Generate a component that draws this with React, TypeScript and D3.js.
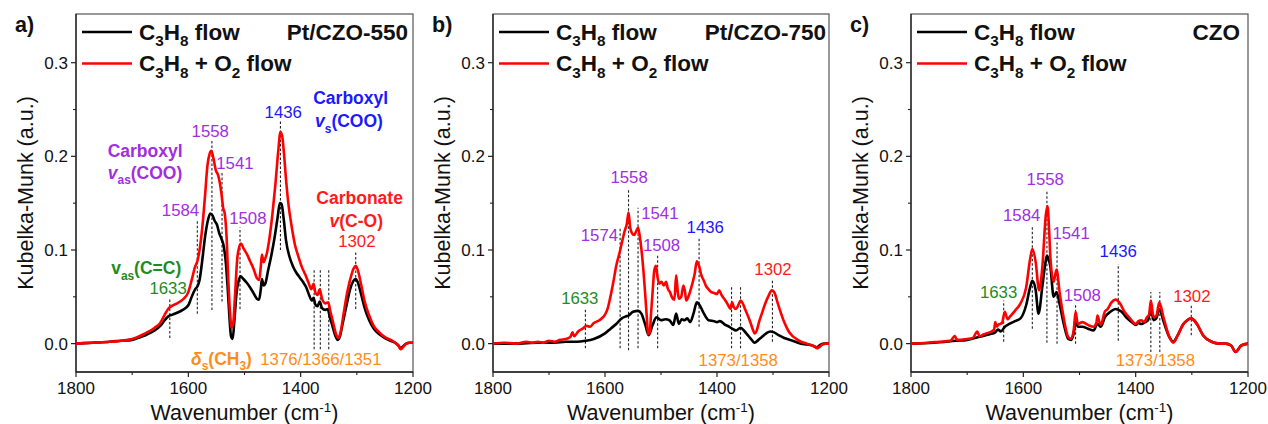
import React from "react";
import * as d3 from "d3";

const W = 1268;
const H = 424;
const FONT = "'Liberation Sans', Arial, Helvetica, sans-serif";

// ---------------- data (wavenumber cm-1, Kubelka-Munk) ----------------
// Panel a: Pt/CZO-550
const aBlackWn = [1800,1770,1740,1720,1700,1690,1680,1670,1660,1650,1642,1636,1628,1620,1610,1600,1594,1588,1584,1580,1575,1570,1565,1561,1557,1553,1549,1545,1541,1537,1533,1530,1527,1524,1521,1518,1514,1510,1507,1502,1496,1490,1484,1478,1474,1471,1469,1466,1463,1458,1452,1446,1441,1437,1434,1430,1426,1420,1414,1408,1402,1396,1390,1385,1380,1377,1374,1370,1366,1362,1356,1352,1348,1343,1338,1334,1330,1325,1318,1312,1306,1302,1298,1292,1286,1278,1270,1260,1250,1240,1232,1226,1222,1218,1212,1206,1200];
const aBlackKM = [0.000,0.001,0.002,0.003,0.004,0.006,0.008,0.011,0.014,0.019,0.025,0.029,0.031,0.033,0.036,0.041,0.050,0.058,0.061,0.068,0.090,0.115,0.132,0.139,0.137,0.131,0.127,0.118,0.112,0.104,0.085,0.060,0.030,0.008,0.005,0.025,0.055,0.068,0.072,0.069,0.065,0.060,0.054,0.048,0.047,0.058,0.069,0.062,0.064,0.078,0.095,0.115,0.135,0.150,0.149,0.132,0.110,0.093,0.083,0.076,0.071,0.066,0.060,0.052,0.046,0.049,0.042,0.040,0.045,0.038,0.036,0.037,0.028,0.018,0.008,0.004,0.008,0.022,0.042,0.058,0.067,0.069,0.065,0.052,0.038,0.025,0.016,0.010,0.006,0.003,0.001,-0.002,-0.005,-0.003,0.000,0.001,0.001];
const aRedWn = [1800,1770,1740,1720,1700,1690,1680,1670,1660,1650,1642,1636,1630,1620,1610,1600,1594,1588,1584,1580,1575,1570,1566,1562,1559,1555,1551,1547,1544,1541,1538,1535,1532,1529,1526,1523,1520,1517,1513,1509,1506,1502,1496,1490,1484,1478,1474,1471,1469,1466,1463,1460,1455,1450,1445,1440,1436,1433,1430,1426,1422,1416,1410,1404,1398,1392,1386,1381,1377,1374,1370,1366,1362,1356,1351,1347,1342,1337,1333,1329,1324,1318,1312,1306,1302,1298,1292,1286,1278,1270,1260,1250,1240,1232,1226,1222,1218,1212,1206,1200];
const aRedKM = [0.000,0.001,0.002,0.003,0.005,0.007,0.010,0.013,0.017,0.022,0.031,0.037,0.040,0.043,0.047,0.055,0.068,0.082,0.088,0.100,0.125,0.160,0.190,0.203,0.206,0.197,0.185,0.180,0.172,0.160,0.145,0.138,0.115,0.070,0.035,0.017,0.022,0.050,0.090,0.104,0.107,0.102,0.096,0.088,0.080,0.070,0.068,0.082,0.095,0.087,0.091,0.097,0.115,0.140,0.170,0.205,0.226,0.222,0.205,0.175,0.150,0.125,0.105,0.093,0.082,0.074,0.065,0.058,0.064,0.055,0.052,0.058,0.048,0.043,0.044,0.034,0.022,0.010,0.006,0.012,0.030,0.052,0.068,0.080,0.083,0.078,0.062,0.045,0.030,0.019,0.012,0.007,0.004,0.001,-0.002,-0.006,-0.004,0.000,0.001,0.001];

// Panel b: Pt/CZO-750
const bBlackWn = [1800,1760,1720,1690,1670,1650,1635,1620,1600,1590,1580,1570,1563,1558,1550,1541,1535,1528,1522,1515,1508,1500,1492,1485,1478,1473,1468,1463,1458,1453,1448,1442,1436,1430,1425,1415,1405,1400,1395,1385,1378,1373,1366,1358,1352,1345,1338,1333,1326,1320,1312,1305,1298,1290,1280,1270,1260,1250,1240,1230,1222,1215,1208,1200];
const bBlackKM = [0.000,0.000,0.001,0.001,0.002,0.002,0.003,0.005,0.011,0.016,0.021,0.027,0.029,0.030,0.034,0.035,0.032,0.020,0.009,0.020,0.028,0.025,0.026,0.025,0.020,0.032,0.021,0.026,0.025,0.027,0.023,0.032,0.044,0.040,0.034,0.025,0.024,0.023,0.024,0.020,0.018,0.016,0.014,0.017,0.014,0.009,0.004,0.001,0.004,0.007,0.011,0.013,0.012,0.009,0.006,0.004,0.002,0.000,-0.001,-0.002,-0.004,-0.001,0.000,0.000];
const bRedWn = [1800,1780,1760,1740,1730,1720,1710,1700,1690,1680,1670,1662,1658,1655,1648,1640,1633,1627,1620,1610,1600,1595,1590,1585,1580,1574,1569,1565,1561,1558,1555,1552,1548,1545,1541,1538,1535,1531,1528,1525,1523,1520,1518,1515,1512,1509,1506,1503,1499,1495,1491,1488,1484,1480,1476,1473,1470,1468,1464,1460,1457,1455,1450,1445,1440,1436,1432,1428,1424,1420,1415,1410,1405,1400,1396,1392,1385,1380,1376,1373,1370,1366,1362,1358,1354,1350,1345,1340,1336,1333,1329,1325,1320,1315,1308,1302,1297,1292,1286,1280,1273,1265,1258,1250,1240,1230,1225,1222,1218,1212,1205,1200];
const bRedKM = [0.000,0.001,0.000,0.002,0.001,0.002,0.001,0.003,0.002,0.004,0.005,0.007,0.012,0.008,0.013,0.016,0.019,0.018,0.022,0.025,0.031,0.038,0.051,0.066,0.083,0.097,0.110,0.120,0.128,0.140,0.124,0.118,0.116,0.119,0.124,0.115,0.101,0.075,0.051,0.025,0.010,0.012,0.030,0.055,0.078,0.083,0.070,0.064,0.066,0.062,0.066,0.059,0.055,0.049,0.047,0.073,0.055,0.048,0.050,0.062,0.055,0.046,0.052,0.062,0.074,0.088,0.083,0.073,0.068,0.062,0.058,0.055,0.054,0.053,0.057,0.052,0.046,0.041,0.037,0.044,0.039,0.037,0.041,0.046,0.043,0.037,0.030,0.022,0.015,0.011,0.014,0.023,0.032,0.041,0.051,0.057,0.054,0.044,0.033,0.023,0.014,0.008,0.005,0.002,0.000,-0.002,-0.003,-0.005,-0.004,-0.001,0.000,0.000];

// Panel c: CZO
const cBlackWn = [1800,1760,1720,1700,1680,1660,1650,1645,1640,1633,1625,1615,1605,1595,1588,1584,1578,1573,1566,1561,1558,1555,1552,1546,1541,1535,1528,1520,1515,1510,1507,1503,1495,1485,1475,1468,1462,1455,1445,1436,1425,1415,1405,1400,1395,1390,1383,1378,1373,1368,1363,1358,1350,1340,1333,1325,1315,1308,1302,1296,1290,1280,1265,1250,1240,1230,1222,1212,1200];
const cBlackKM = [0.000,0.001,0.003,0.004,0.007,0.010,0.012,0.015,0.013,0.018,0.021,0.024,0.027,0.041,0.060,0.067,0.057,0.032,0.062,0.085,0.094,0.090,0.083,0.050,0.055,0.041,0.021,0.005,0.004,0.012,0.023,0.018,0.018,0.016,0.014,0.021,0.018,0.028,0.034,0.037,0.034,0.027,0.022,0.020,0.022,0.021,0.023,0.025,0.037,0.025,0.027,0.037,0.023,0.007,0.002,0.009,0.021,0.025,0.027,0.025,0.020,0.009,0.002,0.000,0.000,-0.002,-0.009,-0.002,0.000];
const cRedWn = [1800,1770,1750,1730,1722,1718,1700,1690,1682,1678,1670,1660,1652,1650,1647,1645,1638,1633,1628,1625,1615,1605,1595,1588,1584,1578,1572,1566,1560,1557,1554,1552,1546,1541,1535,1528,1520,1515,1510,1507,1503,1495,1485,1475,1470,1468,1465,1462,1455,1450,1443,1436,1428,1420,1410,1400,1395,1390,1385,1380,1376,1373,1368,1363,1358,1350,1340,1333,1325,1315,1308,1302,1296,1290,1280,1265,1250,1240,1230,1222,1212,1200];
const cRedKM = [0.000,0.001,0.002,0.003,0.008,0.004,0.005,0.006,0.013,0.008,0.010,0.012,0.015,0.023,0.018,0.020,0.022,0.034,0.026,0.028,0.035,0.043,0.060,0.090,0.101,0.087,0.057,0.083,0.137,0.147,0.120,0.094,0.066,0.079,0.053,0.027,0.007,0.005,0.016,0.034,0.021,0.023,0.020,0.018,0.022,0.030,0.024,0.020,0.034,0.037,0.044,0.047,0.043,0.034,0.027,0.021,0.024,0.025,0.023,0.028,0.031,0.046,0.028,0.030,0.044,0.027,0.007,0.001,0.009,0.021,0.025,0.027,0.025,0.020,0.009,0.002,0.000,0.000,-0.002,-0.009,-0.002,0.000];

// ---------------- axis config ----------------
const xDomain = [1800, 1200];
const yDomain = [-0.0303, 0.352];
const xMajorTicks = [1800, 1600, 1400, 1200];
const xMinorTicks = [1700, 1500, 1300];
const yMajorTicks = [0.0, 0.1, 0.2, 0.3];
const yMinorTicks = [0.05, 0.15, 0.25];

const PURPLE = "#A12EE0";
const BLUE = "#1A1AFF";
const GREEN = "#1E8C1E";
const ORANGE = "#FF8C1A";
const RED = "#FF1A1A";
const LINE_RED = "#FF0000";

type Seg = { t: string; sub?: boolean; it?: boolean };
type Note = { segs: Seg[]; wn: number; y: number; color: string; bold?: boolean };
type Peak = [number, number, number];

const num = (t: string, wn: number, y: number, color: string): Note => ({ segs: [{ t }], wn, y, color });

const aPeaks: Peak[] = [
  [1633, 0.006, 0.049], [1584, 0.032, 0.131], [1558, 0.036, 0.217], [1540, 0.045, 0.183],
  [1508, 0.037, 0.124], [1436, 0.100, 0.239], [1376, -0.006, 0.080], [1365, -0.006, 0.080],
  [1350, -0.006, 0.080], [1302, 0.037, 0.099],
];
const aNotes: Note[] = [
  num("1633", 1636, 0.053, GREEN),
  { segs: [{ t: "v" }, { t: "as", sub: true }, { t: "(C=C)" }], wn: 1675, y: 0.074, color: GREEN, bold: true },
  num("1584", 1614, 0.136, PURPLE),
  { segs: [{ t: "Carboxyl" }], wn: 1677, y: 0.199, color: PURPLE, bold: true },
  { segs: [{ t: "v", it: true }, { t: "as", sub: true }, { t: "(COO)" }], wn: 1677, y: 0.176, color: PURPLE, bold: true },
  num("1558", 1561, 0.221, PURPLE),
  num("1541", 1517, 0.187, PURPLE),
  num("1508", 1494, 0.128, PURPLE),
  num("1436", 1431, 0.241, BLUE),
  { segs: [{ t: "Carboxyl" }], wn: 1311, y: 0.256, color: BLUE, bold: true },
  { segs: [{ t: "v", it: true }, { t: "s", sub: true }, { t: "(COO)" }], wn: 1314, y: 0.231, color: BLUE, bold: true },
  { segs: [{ t: "Carbonate" }], wn: 1295, y: 0.149, color: RED, bold: true },
  { segs: [{ t: "v", it: true }, { t: "(C-O)" }], wn: 1301, y: 0.125, color: RED, bold: true },
  num("1302", 1300, 0.103, RED),
  { segs: [{ t: "δ", it: true }, { t: "s", sub: true }, { t: "(CH" }, { t: "3", sub: true }, { t: ")" }], wn: 1541, y: -0.023, color: ORANGE, bold: true },
  num("1376/1366/1351", 1364, -0.023, ORANGE),
];

const bPeaks: Peak[] = [
  [1635, -0.005, 0.037], [1573, -0.005, 0.124], [1558, -0.007, 0.166], [1541, -0.005, 0.145],
  [1506, -0.005, 0.094], [1432, 0.018, 0.112], [1374, -0.005, 0.062], [1358, -0.005, 0.062],
  [1301, 0.002, 0.069],
];
const bNotes: Note[] = [
  num("1633", 1645, 0.042, GREEN),
  num("1574", 1610, 0.110, PURPLE),
  num("1558", 1557, 0.171, PURPLE),
  num("1541", 1502, 0.133, PURPLE),
  num("1508", 1499, 0.099, PURPLE),
  num("1436", 1421, 0.118, BLUE),
  num("1373/1358", 1362, -0.0235, ORANGE),
  num("1302", 1300, 0.073, RED),
];

const cPeaks: Peak[] = [
  [1635, 0.002, 0.046], [1584, 0.016, 0.126], [1558, 0.001, 0.164], [1540, 0.0, 0.108],
  [1507, 0.0, 0.041], [1431, 0.003, 0.085], [1373, -0.009, 0.055], [1357, -0.009, 0.055],
  [1301, 0.009, 0.041],
];
const cNotes: Note[] = [
  num("1633", 1644, 0.049, GREEN),
  num("1584", 1603, 0.131, PURPLE),
  num("1558", 1561, 0.169, PURPLE),
  num("1541", 1515, 0.112, PURPLE),
  num("1508", 1495, 0.046, PURPLE),
  num("1436", 1431, 0.092, BLUE),
  num("1373/1358", 1365, -0.0235, ORANGE),
  num("1302", 1300, 0.044, RED),
];

type PanelCfg = {
  left: number; right: number; tag: string; sample: string;
  bw: number[]; bk: number[]; rw: number[]; rk: number[];
  peaks: Peak[]; notes: Note[]; sampleOffset: number;
};

const panels: PanelCfg[] = [
  { left: 76, right: 413, tag: "a)", sample: "Pt/CZO-550", bw: aBlackWn, bk: aBlackKM, rw: aRedWn, rk: aRedKM, peaks: aPeaks, notes: aNotes, sampleOffset: 5 },
  { left: 493, right: 829, tag: "b)", sample: "Pt/CZO-750", bw: bBlackWn, bk: bBlackKM, rw: bRedWn, rk: bRedKM, peaks: bPeaks, notes: bNotes, sampleOffset: 3 },
  { left: 911, right: 1248, tag: "c)", sample: "CZO", bw: cBlackWn, bk: cBlackKM, rw: cRedWn, rk: cRedKM, peaks: cPeaks, notes: cNotes, sampleOffset: 8 },
];

const TOP = 14;
const BOTTOM = 372;

function RichText({ segs, x, y, size, bold, color, anchor = "middle" }: { segs: Seg[]; x: number; y: number; size: number; bold?: boolean; color: string; anchor?: string }) {
  const subSize = size * 0.68;
  const shift = size * 0.3;
  let cur = 0;
  const spans = segs.map((s, i) => {
    const dy = s.sub ? shift - cur : -cur;
    cur = s.sub ? shift : 0;
    return (
      <tspan key={i} dy={dy} fontSize={s.sub ? subSize : size} fontStyle={s.it ? "italic" : "normal"}>
        {s.t}
      </tspan>
    );
  });
  return (
    <text x={x} y={y} fill={color} fontFamily={FONT} fontSize={size} fontWeight={bold ? "bold" : "normal"} textAnchor={anchor}>
      {spans}
    </text>
  );
}

function Panel({ cfg }: { cfg: PanelCfg }) {
  const x = d3.scaleLinear().domain(xDomain).range([cfg.left, cfg.right]);
  const y = d3.scaleLinear().domain(yDomain).range([BOTTOM, TOP]);
  const line = d3.line<[number, number]>().x((d) => x(d[0])).y((d) => y(d[1])).curve(d3.curveMonotoneX);
  const black = line(cfg.bw.map((w, i) => [w, cfg.bk[i]] as [number, number])) || "";
  const red = line(cfg.rw.map((w, i) => [w, cfg.rk[i]] as [number, number])) || "";
  const cx = (cfg.left + cfg.right) / 2;
  const cy = (TOP + BOTTOM) / 2;
  const L = cfg.left;

  return (
    <g>
      {/* frame */}
      <rect x={L} y={TOP} width={cfg.right - L} height={BOTTOM - TOP} fill="none" stroke="#555" strokeWidth={1.2} />
      <line x1={L} x2={L} y1={TOP} y2={BOTTOM} stroke="#222" strokeWidth={1.3} />
      <line x1={L} x2={cfg.right} y1={BOTTOM} y2={BOTTOM} stroke="#222" strokeWidth={1.3} />

      {/* y ticks */}
      {yMajorTicks.map((t) => (
        <g key={"ym" + t}>
          <line x1={L - 5} x2={L} y1={y(t)} y2={y(t)} stroke="#222" strokeWidth={1.2} />
          <text x={L - 8} y={y(t) + 6} textAnchor="end" fontFamily={FONT} fontSize={17} fill="#111">
            {d3.format(".1f")(t)}
          </text>
        </g>
      ))}
      {yMinorTicks.map((t) => (
        <line key={"yn" + t} x1={L - 3} x2={L} y1={y(t)} y2={y(t)} stroke="#222" strokeWidth={1.1} />
      ))}
      {/* x ticks */}
      {xMajorTicks.map((t) => (
        <g key={"xm" + t}>
          <line x1={x(t)} x2={x(t)} y1={BOTTOM} y2={BOTTOM + 5} stroke="#222" strokeWidth={1.2} />
          <text x={x(t)} y={BOTTOM + 21.5} textAnchor="middle" fontFamily={FONT} fontSize={17} fill="#111">
            {t}
          </text>
        </g>
      ))}
      {xMinorTicks.map((t) => (
        <line key={"xn" + t} x1={x(t)} x2={x(t)} y1={BOTTOM} y2={BOTTOM + 3} stroke="#222" strokeWidth={1.1} />
      ))}

      {/* axis titles */}
      <text x={cx} y={419.5} textAnchor="middle" fontFamily={FONT} fontSize={21.5} fill="#111">
        Wavenumber (cm
        <tspan dy={-8} fontSize={13.5}>-1</tspan>
        <tspan dy={8}>)</tspan>
      </text>
      <text transform={`translate(${L - 43},${cy}) rotate(-90)`} textAnchor="middle" fontFamily={FONT} fontSize={21.5} fill="#111">
        Kubelka-Munk (a.u.)
      </text>
      <text x={L - 61} y={32} fontFamily={FONT} fontSize={21.5} fontWeight="bold" fill="#111">
        {cfg.tag}
      </text>

      {/* peak markers */}
      {cfg.peaks.map((p, i) => (
        <line key={"pk" + i} x1={x(p[0])} x2={x(p[0])} y1={y(p[1])} y2={y(p[2])} stroke="#222" strokeWidth={1.1} strokeDasharray="2.5,2" />
      ))}

      {/* spectra */}
      <path d={black} fill="none" stroke="#000" strokeWidth={2.6} strokeLinejoin="round" />
      <path d={red} fill="none" stroke={LINE_RED} strokeWidth={2.6} strokeLinejoin="round" />

      {/* annotations */}
      {cfg.notes.map((n, i) => (
        <RichText key={"nt" + i} segs={n.segs} x={x(n.wn)} y={y(n.y)} size={n.bold ? 17.5 : 16.8} bold={n.bold} color={n.color} />
      ))}

      {/* legend */}
      <line x1={L + 6} x2={L + 56} y1={32} y2={32} stroke="#000" strokeWidth={2.6} />
      <line x1={L + 6} x2={L + 56} y1={63.5} y2={63.5} stroke={LINE_RED} strokeWidth={2.6} />
      <RichText segs={[{ t: "C" }, { t: "3", sub: true }, { t: "H" }, { t: "8", sub: true }, { t: " flow" }]} x={L + 63} y={39.5} size={22.5} bold color="#111" anchor="start" />
      <RichText segs={[{ t: "C" }, { t: "3", sub: true }, { t: "H" }, { t: "8", sub: true }, { t: " + O" }, { t: "2", sub: true }, { t: " flow" }]} x={L + 63} y={71} size={22.5} bold color="#111" anchor="start" />
      <text x={cfg.right - cfg.sampleOffset} y={39.5} textAnchor="end" fontFamily={FONT} fontSize={22.5} fontWeight="bold" fill="#111">
        {cfg.sample}
      </text>
    </g>
  );
}

export default function App() {
  return (
    <svg width={W} height={H} style={{ display: "block", position: "absolute", left: 0, top: 0, background: "#fff" }}>
      <rect x={0} y={0} width={W} height={H} fill="#fff" />
      {panels.map((p, i) => (
        <Panel key={i} cfg={p} />
      ))}
    </svg>
  );
}
